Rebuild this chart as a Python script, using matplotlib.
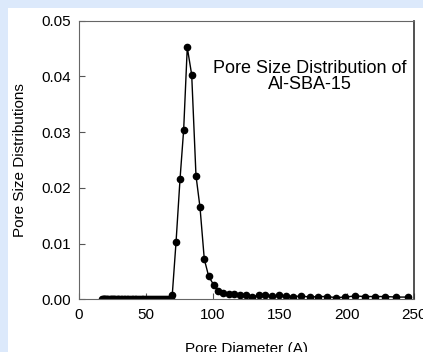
import matplotlib
matplotlib.use("Agg")
import matplotlib.pyplot as plt
from matplotlib.patches import Rectangle

plt.rcParams['font.family'] = ['Liberation Sans', 'DejaVu Sans']

# Pore diameter (A) and pore size distribution values
diameter = [17.0, 17.6, 18.3, 19.0, 19.7, 20.4, 21.2, 22.0, 22.8, 23.6,
            24.5, 25.4, 26.3, 27.2, 28.2, 29.2, 30.2, 31.2, 32.3, 33.4,
            34.5, 35.6, 36.8, 38.0, 39.2, 40.4, 41.6, 42.9, 44.2, 45.5,
            46.8, 48.1, 49.5, 50.9, 52.3, 53.7, 55.1, 56.6, 58.1, 59.6,
            61.1, 62.6, 64.1, 65.6, 67.1, 68.4,
            69.6, 72.4, 75.4, 78.1, 80.8, 84.1, 87.3, 90.3, 93.5, 96.8,
            100.5, 104.0, 107.7, 111.7, 116.0, 120.2, 124.6, 129.3, 134.0, 138.8,
            143.8, 149.0, 154.5, 160.0, 166.0, 172.2, 178.7, 185.2, 191.7, 198.6,
            205.9, 213.1, 220.9, 228.6, 236.8, 245.3]
psd = [0.0] * 46 + [
    0.0008, 0.0102, 0.0216, 0.0304, 0.0452, 0.0403, 0.0222, 0.0165, 0.0072, 0.0041,
    0.0026, 0.0015, 0.0011, 0.0010, 0.0009, 0.0008, 0.0008, 0.0004, 0.0008, 0.0008,
    0.0006, 0.0007, 0.0006, 0.0005, 0.0006, 0.0004, 0.0005, 0.0005, 0.0003, 0.0004,
    0.0006, 0.0005, 0.0005, 0.0005, 0.0004, 0.0004]

x_ticks = [0, 50, 100, 150, 200, 250]
y_ticks = [0.00, 0.01, 0.02, 0.03, 0.04, 0.05]

fig = plt.figure(figsize=(4.23, 3.52), dpi=100, facecolor='#dce9fb')
fig.patches.append(Rectangle((8 / 423, 0), 1, (352 - 8) / 352,
                             transform=fig.transFigure, facecolor='white',
                             edgecolor='none', zorder=-10))

ax = fig.add_axes([79 / 423, 52.7 / 352, 335 / 423, 278.6 / 352])
ax.set_zorder(5)
ax.plot(diameter, psd, '-o', color='black', lw=1, markersize=4.5)

ax.set_xlim(0, 250)
ax.set_ylim(0, 0.05)
ax.set_xticks(x_ticks)
ax.set_yticks(y_ticks)
ax.set_yticklabels(["%.2f" % v for v in y_ticks])
ax.tick_params(direction='in', length=4, labelsize=11, top=False, right=False,
               color='#555555')
ax.tick_params(axis='x', pad=6)
ax.tick_params(axis='y', pad=6)
for side in ['left', 'bottom', 'top']:
    ax.spines[side].set_color('#666666')
ax.spines['right'].set_color('#333333')
ax.spines['right'].set_linewidth(1.2)

ax.set_xlabel('Pore Diameter (A)', fontsize=11, labelpad=15)
ax.set_ylabel('Pore Size Distributions', fontsize=11, labelpad=10)

ax.text(0.688, 0.80, 'Pore Size Distribution of\nAl-SBA-15', transform=ax.transAxes,
        ha='center', va='center', fontsize=13, linespacing=0.95)

fig.savefig('out.png', dpi=100, facecolor=fig.get_facecolor())
